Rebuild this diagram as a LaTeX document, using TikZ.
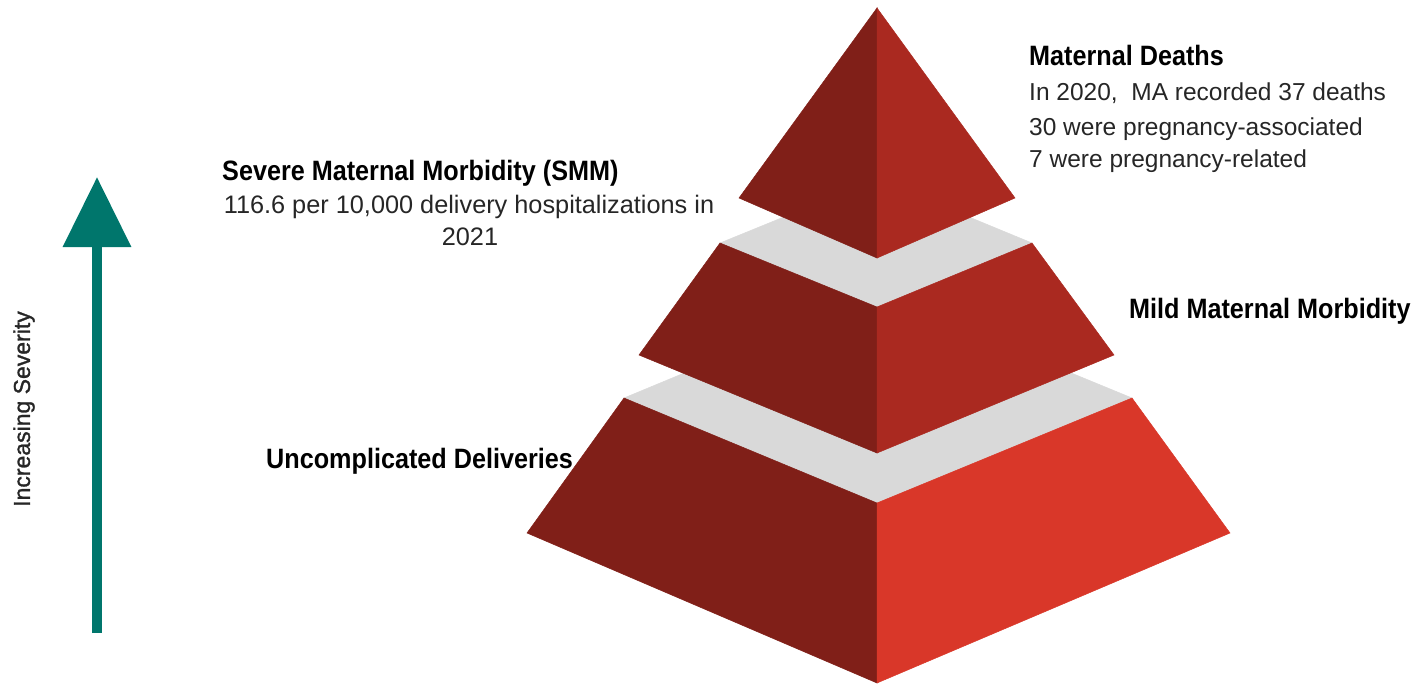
\documentclass[tikz,border=0pt]{standalone}
\usepackage{fontspec}
\setmainfont{Liberation Sans}
\newfontfamily\headfont[FakeStretch=0.9]{Liberation Sans}
\newfontfamily\sidefont[FakeBold=1.2]{Liberation Sans}
\usetikzlibrary{arrows.meta}

\definecolor{darkred}{RGB}{128,31,24}
\definecolor{midred}{RGB}{170,41,32}
\definecolor{brightred}{RGB}{217,55,41}
\definecolor{tiergray}{RGB}{217,217,217}
\definecolor{arrowteal}{RGB}{0,118,108}
\definecolor{textgray}{RGB}{38,38,38}

\begin{document}
\begin{tikzpicture}[x=1pt,y=-1pt,
	title/.style={anchor=base west,inner sep=0pt,font=\headfont\bfseries\fontsize{28}{30}\selectfont},
	body/.style={anchor=base west,inner sep=0pt,text=textgray,font=\fontsize{24.5}{28}\selectfont}]
	\useasboundingbox (0,0) rectangle (1419,685);

	% corners of the three tiers
	\coordinate (t0) at (877,  8);  \coordinate (tl) at (739,198);
	\coordinate (tf) at (877,258);  \coordinate (tr) at (1015,198);
	\coordinate (m0) at (877,179);  \coordinate (m1) at (720,243);
	\coordinate (m2) at (1032,243); \coordinate (m3) at (877,307);
	\coordinate (m4) at (639,355);  \coordinate (m5) at (1114,355);
	\coordinate (m6) at (877,453);
	\coordinate (b0) at (877,293);  \coordinate (b1) at (624,398);
	\coordinate (b2) at (1132,398); \coordinate (b3) at (877,503);
	\coordinate (b4) at (527,533);  \coordinate (b5) at (1230,533);
	\coordinate (b6) at (877,683);

	\def\faces {b0/b1/b3/b2/tiergray, b1/b4/b6/b3/darkred, b3/b6/b5/b2/brightred,
	m0/m1/m3/m2/tiergray, m1/m4/m6/m3/darkred, m3/m6/m5/m2/midred}  % back to front
	\foreach \a/\b/\c/\d/\col in \faces
	{	\fill[\col, draw=\col, line width=0.5] (\a) -- (\b) -- (\c) -- (\d) -- cycle;
	}
	\fill[darkred, draw=darkred, line width=0.5] (t0) -- (tl) -- (tf) -- cycle;
	\fill[midred, draw=midred, line width=0.5] (t0) -- (tf) -- (tr) -- cycle;

	% severity arrow
	\coordinate (low) at (97,633);
	\coordinate (high) at (97,177);
	\draw[arrowteal, line width=10, -{Triangle[length=70pt,width=66pt]}] (low) -- (high);
	\node[rotate=90, text=textgray, font=\sidefont\fontsize{23}{26}\selectfont] (severity) at (24,409) {Increasing Severity};

	% labels
	\node[title] (deaths) at (1029,66) {Maternal Deaths};
	\node[body] (deaths1) at (1029,100) {In 2020,\ \ MA recorded 37 deaths};
	\node[body] (deaths2) at (1029,135) {30 were pregnancy-associated};
	\node[body] (deaths3) at (1029,167) {7 were pregnancy-related};

	\node[title] (smm) at (222,180) {Severe Maternal Morbidity (SMM)};
	\node[body, anchor=base, font=\fontsize{25.3}{28}\selectfont] (smm1) at (469,213) {116.6 per 10,000 delivery hospitalizations in};
	\node[body, anchor=base, font=\fontsize{25.3}{28}\selectfont] (smm2) at (470,245) {2021};

	\node[title] (mild) at (1129,318) {Mild Maternal Morbidity};
	\node[title] (uncomp) at (266,468) {Uncomplicated Deliveries};
\end{tikzpicture}
\end{document}
